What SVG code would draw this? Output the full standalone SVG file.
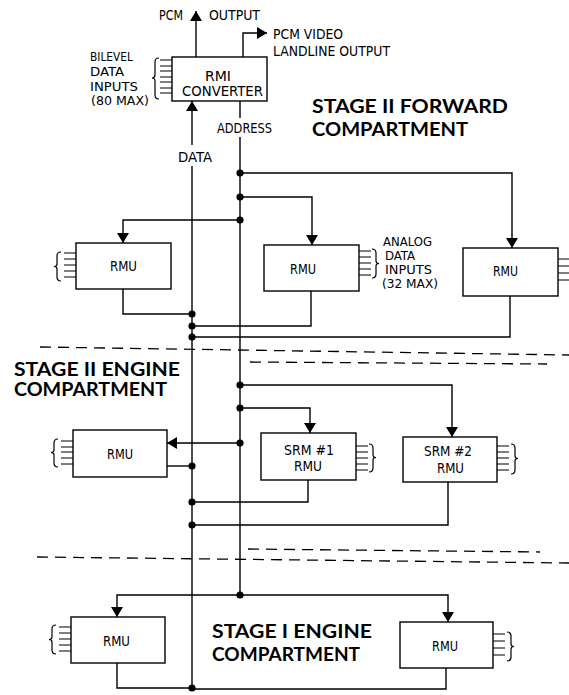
<svg xmlns="http://www.w3.org/2000/svg" width="569" height="695" viewBox="0 0 569 695">
<defs>
<marker id="ah" viewBox="0 0 10 12" refX="10" refY="6" markerWidth="10" markerHeight="12" markerUnits="userSpaceOnUse" orient="auto">
<path d="M0,0 L10,6 L0,12 z" fill="#000"/>
</marker>
</defs>
<style>
.box{fill:#fff;stroke:#000;stroke-width:1.4}
.ln{fill:none;stroke:#000;stroke-width:1.4}
.arr{fill:none;stroke:#000;stroke-width:1.4;marker-end:url(#ah)}
.dash{fill:none;stroke:#000;stroke-width:1.3;stroke-dasharray:11 7}
.dot{fill:#000}
.in{fill:none;stroke:#000;stroke-width:1.2}
.t{font-family:"Liberation Sans Narrow","DejaVu Sans Condensed","Liberation Sans",sans-serif;font-size:14px;fill:#000}
.s{font-size:12px}
.h{font-family:Lato,"Liberation Sans",sans-serif;font-weight:700;font-size:18px;fill:#000}
</style>
<rect width="569" height="695" fill="#fff"/>

<g id="connectors">
<path class="arr" d="M196,57 V11"/>
<path class="arr" d="M243,57 V33 H267"/>
<path class="arr" d="M192,145 V101"/>
<path class="ln" d="M192,166 V688"/>
<path class="ln" d="M240,101 V118 M240,137 V595"/>
<path class="arr" d="M240,173 H512 V248"/>
<path class="arr" d="M240,197 H312 V245"/>
<path class="arr" d="M240,220 H123 V243"/>
<path class="ln" d="M123,289 V314 H192"/>
<path class="ln" d="M311,291 V326 H192"/>
<path class="ln" d="M510,296 V337 H192"/>
<path class="arr" d="M240,385 H452 V437"/>
<path class="arr" d="M240,408 H310 V433"/>
<path class="arr" d="M240,443 H167"/>
<path class="ln" d="M167,466 H192"/>
<path class="ln" d="M308,480 V502 H192"/>
<path class="ln" d="M448,482 V525 H192"/>
<path class="arr" d="M240,595 H117 V617"/>
<path class="arr" d="M240,595 H448 V622"/>
<path class="ln" d="M117,663 V688 H192"/>
<path class="ln" d="M446,668 V689 H192"/>
<circle class="dot" cx="240" cy="173" r="3.6"/>
<circle class="dot" cx="240" cy="197" r="3.6"/>
<circle class="dot" cx="240" cy="220" r="3.6"/>
<circle class="dot" cx="240" cy="385" r="3.6"/>
<circle class="dot" cx="240" cy="408" r="3.6"/>
<circle class="dot" cx="240" cy="443" r="3.6"/>
<circle class="dot" cx="240" cy="595" r="3.6"/>
<circle class="dot" cx="192" cy="314" r="3.6"/>
<circle class="dot" cx="192" cy="326" r="3.6"/>
<circle class="dot" cx="192" cy="337" r="3.6"/>
<circle class="dot" cx="192" cy="466" r="3.6"/>
<circle class="dot" cx="192" cy="502" r="3.6"/>
<circle class="dot" cx="192" cy="525" r="3.6"/>
<circle class="dot" cx="192" cy="688" r="3.6"/>
</g>

<g id="boundaries">
<path class="dash" d="M40,347 L569,355"/>
<path class="dash" d="M250,362 L547,364"/>
<path class="dash" d="M248,549 L540,552"/>
<path class="dash" d="M37,557 L569,563"/>
</g>

<g id="labels">
<text class="t" x="159" y="20" textLength="24" lengthAdjust="spacingAndGlyphs">PCM</text>
<text class="t" x="209" y="20" textLength="51" lengthAdjust="spacingAndGlyphs">OUTPUT</text>
<text class="t" x="273" y="39" textLength="70" lengthAdjust="spacingAndGlyphs">PCM VIDEO</text>
<text class="t" x="273" y="56" textLength="117" lengthAdjust="spacingAndGlyphs">LANDLINE OUTPUT</text>
<text class="t" x="217" y="133" textLength="55" lengthAdjust="spacingAndGlyphs">ADDRESS</text>
<text class="t" x="178" y="162" textLength="34" lengthAdjust="spacingAndGlyphs">DATA</text>
<text class="h" x="312" y="113" textLength="196" lengthAdjust="spacingAndGlyphs">STAGE II FORWARD</text>
<text class="h" x="312" y="136" textLength="156" lengthAdjust="spacingAndGlyphs">COMPARTMENT</text>
<text class="h" x="14" y="376" textLength="166" lengthAdjust="spacingAndGlyphs">STAGE II ENGINE</text>
<text class="h" x="14" y="396" textLength="153" lengthAdjust="spacingAndGlyphs">COMPARTMENT</text>
<text class="h" x="212" y="638" textLength="160" lengthAdjust="spacingAndGlyphs">STAGE I ENGINE</text>
<text class="h" x="212" y="661" textLength="148" lengthAdjust="spacingAndGlyphs">COMPARTMENT</text>
</g>

<g id="rmi-converter">
<rect class="box" x="172" y="57" width="95" height="44"/>
<text class="t" x="205" y="81" textLength="26" lengthAdjust="spacingAndGlyphs">RMI</text>
<text class="t" x="182" y="96" textLength="81" lengthAdjust="spacingAndGlyphs">CONVERTER</text>
<path class="in" d="M160,60 H172 M160,66 H172 M160,71 H172 M160,77 H172 M160,82 H172 M160,88 H172 M160,93 H172"/>
<path class="in" d="M159,58 Q155,58 155,62 L155,75 Q155,78 152,78 Q155,78 155,81 L155,95 Q155,99 159,99"/>
<text class="t s" x="90" y="61" textLength="43" lengthAdjust="spacingAndGlyphs">BILEVEL</text>
<text class="t s" x="90" y="76" textLength="34" lengthAdjust="spacingAndGlyphs">DATA</text>
<text class="t s" x="90" y="91" textLength="48" lengthAdjust="spacingAndGlyphs">INPUTS</text>
<text class="t s" x="91" y="105" textLength="58" lengthAdjust="spacingAndGlyphs">(80 MAX)</text>
</g>

<g id="rmu-fwd-1">
<rect class="box" x="76" y="243" width="95" height="46"/>
<text class="t" x="110" y="271" textLength="27" lengthAdjust="spacingAndGlyphs">RMU</text>
<path class="in" d="M64,253 H76 M64,259 H76 M64,265 H76 M64,271 H76 M64,277 H76"/>
<path class="in" d="M61,252 Q57,252 57,256 L57,264 Q57,266.5 54,266.5 Q57,266.5 57,269 L57,277 Q57,281 61,281"/>
</g>

<g id="rmu-fwd-2">
<rect class="box" x="264" y="245" width="95" height="46"/>
<text class="t" x="290" y="274" textLength="26" lengthAdjust="spacingAndGlyphs">RMU</text>
<path class="in" d="M359,251 H371 M359,257 H371 M359,263 H371 M359,269 H371 M359,275 H371"/>
<path class="in" d="M372,249 Q376,249 376,253 L376,261 Q376,263.5 379,263.5 Q376,263.5 376,266 L376,274 Q376,278 372,278"/>
<text class="t s" x="383" y="246" textLength="49" lengthAdjust="spacingAndGlyphs">ANALOG</text>
<text class="t s" x="385" y="260" textLength="30" lengthAdjust="spacingAndGlyphs">DATA</text>
<text class="t s" x="385" y="274" textLength="47" lengthAdjust="spacingAndGlyphs">INPUTS</text>
<text class="t s" x="382" y="288" textLength="56" lengthAdjust="spacingAndGlyphs">(32 MAX)</text>
</g>

<g id="rmu-fwd-3">
<rect class="box" x="463" y="248" width="95" height="48"/>
<text class="t" x="493" y="276" textLength="25" lengthAdjust="spacingAndGlyphs">RMU</text>
<path class="in" d="M558,259 H569 M558,266 H569 M558,273 H569 M558,280 H569"/>
</g>

<g id="rmu-engine">
<rect class="box" x="73" y="430" width="94" height="47"/>
<text class="t" x="107" y="459" textLength="26" lengthAdjust="spacingAndGlyphs">RMU</text>
<path class="in" d="M61,441 H73 M61,447 H73 M61,452 H73 M61,458 H73 M61,464 H73"/>
<path class="in" d="M58,439 Q54,439 54,443 L54,450 Q54,452.5 51,452.5 Q54,452.5 54,455 L54,463 Q54,467 58,467"/>
</g>

<g id="srm-1-rmu">
<rect class="box" x="261" y="433" width="95" height="47"/>
<text class="t" x="284" y="455" textLength="50" lengthAdjust="spacingAndGlyphs">SRM #1</text>
<text class="t" x="294" y="471" textLength="28" lengthAdjust="spacingAndGlyphs">RMU</text>
<path class="in" d="M356,446 H368 M356,452 H368 M356,458 H368 M356,464 H368 M356,470 H368"/>
<path class="in" d="M369,444 Q373,444 373,448 L373,455 Q373,457.5 376,457.5 Q373,457.5 373,460 L373,468 Q373,472 369,472"/>
</g>

<g id="srm-2-rmu">
<rect class="box" x="403" y="437" width="94" height="45"/>
<text class="t" x="424" y="456" textLength="48" lengthAdjust="spacingAndGlyphs">SRM #2</text>
<text class="t" x="437" y="473" textLength="27" lengthAdjust="spacingAndGlyphs">RMU</text>
<path class="in" d="M497,446 H509 M497,452 H509 M497,458 H509 M497,464 H509 M497,470 H509"/>
<path class="in" d="M511,444 Q515,444 515,448 L515,456 Q515,458.5 518,458.5 Q515,458.5 515,461 L515,470 Q515,474 511,474"/>
</g>

<g id="rmu-stage1-left">
<rect class="box" x="71" y="617" width="94" height="46"/>
<text class="t" x="103" y="646" textLength="27" lengthAdjust="spacingAndGlyphs">RMU</text>
<path class="in" d="M59,627 H71 M59,633 H71 M59,639 H71 M59,645 H71 M59,651 H71"/>
<path class="in" d="M56,625 Q52,625 52,629 L52,637 Q52,639.5 49,639.5 Q52,639.5 52,642 L52,650 Q52,654 56,654"/>
</g>

<g id="rmu-stage1-right">
<rect class="box" x="400" y="622" width="93" height="46"/>
<text class="t" x="432" y="651" textLength="26" lengthAdjust="spacingAndGlyphs">RMU</text>
<path class="in" d="M493,634 H505 M493,641 H505 M493,648 H505 M493,655 H505"/>
<path class="in" d="M507,632 Q511,632 511,636 L511,644 Q511,646.5 514,646.5 Q511,646.5 511,649 L511,657 Q511,661 507,661"/>
</g>
</svg>
